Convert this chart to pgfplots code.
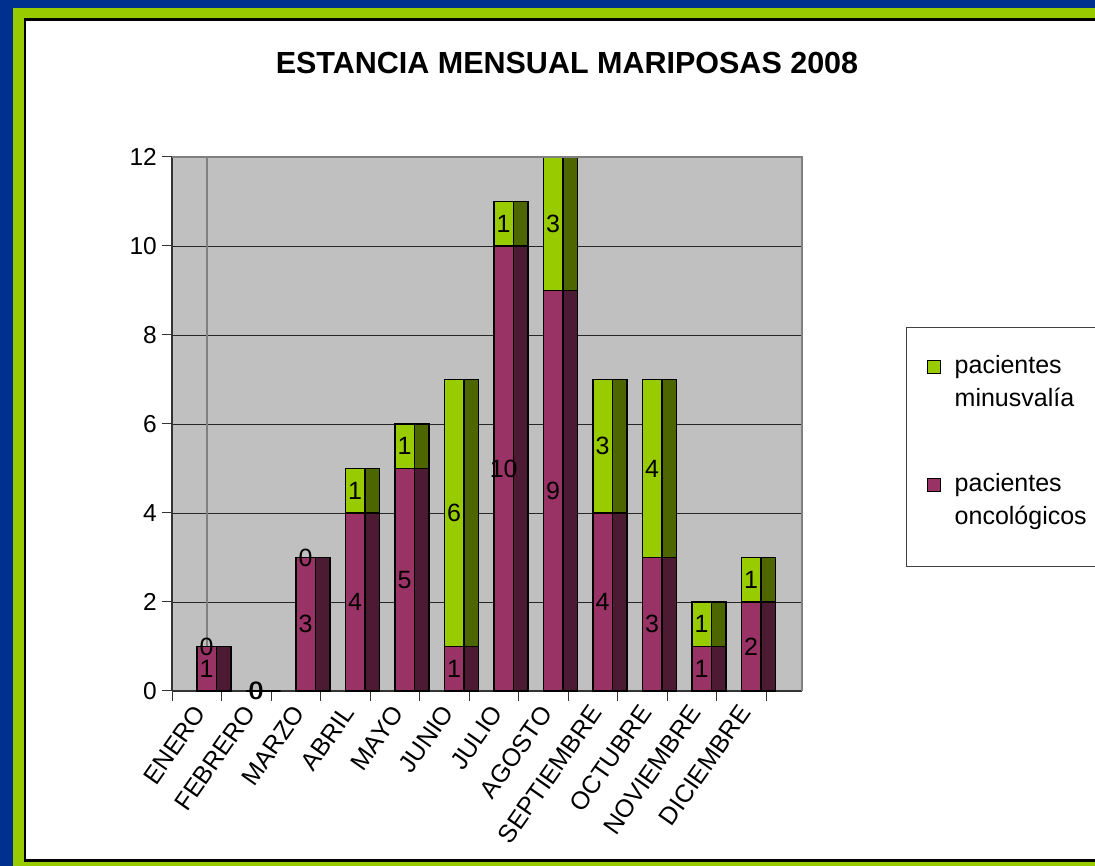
\documentclass[border=0pt]{standalone}
\usepackage{pgfplots}
\pgfplotsset{compat=1.18}
\usepackage{pgfplotstable}
\usepackage{fontspec}
\setmainfont{Liberation Sans}
\definecolor{bgblue}{RGB}{0,48,143}
\definecolor{brgreen}{RGB}{153,204,0}
\definecolor{plotgray}{RGB}{192,192,192}
\definecolor{maroonF}{RGB}{153,51,102}
\definecolor{maroonS}{RGB}{77,26,51}
\definecolor{greenF}{RGB}{153,204,0}
\definecolor{greenS}{RGB}{77,102,0}
\definecolor{bordgray}{RGB}{128,128,128}
\pgfplotstableread{
x onc tot
0 1 1
1 0 0
2 3 3
3 4 5
4 5 6
5 1 7
6 10 11
7 9 12
8 4 7
9 3 7
10 1 2
11 2 3
}\datatab
\begin{document}
\begin{tikzpicture}
\useasboundingbox (0,0) rectangle (1095pt,866pt);
\fill[bgblue] (0,0) rectangle (1095pt,866pt);
\fill[brgreen] (13pt,0) rectangle (1095pt,858pt);
\fill[black] (24pt,4pt) rectangle (1100pt,848pt);
\fill[white] (26pt,7pt) rectangle (1100pt,845pt);
\node[font=\fontsize{30.5}{36}\selectfont\bfseries] at (567pt,803pt) {ESTANCIA MENSUAL MARIPOSAS 2008};
\begin{axis}[
  at={(172pt,175pt)}, anchor=south west,
  scale only axis, width=630pt, height=534pt,
  xmin=-0.5, xmax=12.227, ymin=0, ymax=12,
  axis background/.style={fill=plotgray},
  axis x line*=bottom, axis y line*=left,
  axis line style={draw=black!80, line width=1.2pt},
  ytick={0,2,...,12},
  ymajorgrids, grid style={draw=black!85, line width=0.8pt},
  tick align=outside, major tick length=10pt,
  tick style={draw=black!80, line width=1pt},
  yticklabel style={font=\fontsize{24.5}{24}\selectfont, inner sep=0pt, xshift=-5pt},
  /pgf/number format/assume math mode=true,
  xtick={-0.5,0.5,...,11.5}, xticklabels={},
  extra x ticks={0,...,11},
  extra x tick labels={ENERO,FEBRERO,MARZO,ABRIL,MAYO,JUNIO,JULIO,AGOSTO,SEPTIEMBRE,OCTUBRE,NOVIEMBRE,DICIEMBRE},
  extra x tick style={major tick length=0pt, xticklabel style={font=\fontsize{25}{25}\selectfont, yshift=-12pt, xshift=-4pt, rotate=55, anchor=north east, inner sep=0pt}},
  legend style={at={(1.1651,0.6816)}, anchor=north west, draw=black!75, line width=1pt, fill=white,
    inner xsep=20pt, inner ysep=28pt, font=\fontsize{25}{33}\selectfont, row sep=65.5pt,
    nodes={inner sep=0pt},
    cells={anchor=base west},
    /tikz/every odd column/.append style={column sep=14pt}},
  clip=false,
]
\draw[bordgray, line width=2.5pt] (axis cs:0.207,0) -- (axis cs:0.207,12);
% front faces
\addplot[ybar, bar width=0.40, bar shift=0.20, fill=greenF, draw=black, line width=1.5pt,
  legend image code/.code={\draw[fill=greenF, draw=black, line width=1.2pt] (0pt,33pt) rectangle (13pt,46pt);}]
  table[x=x,y=tot] {\datatab};
\addlegendentry{\parbox[b]{150pt}{pacientes\\minusvalía}}
\addplot[ybar, bar width=0.40, bar shift=0.20, fill=maroonF, draw=black, line width=1.5pt,
  legend image code/.code={\draw[fill=maroonF, draw=black, line width=1.2pt] (0pt,45.25pt) rectangle (13pt,58.25pt);}]
  table[x=x,y=onc] {\datatab};
\addlegendentry{\parbox[b]{150pt}{pacientes\\oncológicos\par\vspace{7pt}}}
% side faces
\addplot[ybar, bar width=0.29, bar shift=0.545, fill=greenS, draw=black, line width=1.5pt, forget plot] table[x=x,y=tot] {\datatab};
\addplot[ybar, bar width=0.29, bar shift=0.545, fill=maroonS, draw=black, line width=1.5pt, forget plot] table[x=x,y=onc] {\datatab};
% top/right border
\draw[bordgray, line width=2.5pt] (rel axis cs:0,1) -- (rel axis cs:1,1) -- (rel axis cs:1,0);
% value labels
\addplot[draw=none, mark=none, forget plot, nodes near coords, point meta=explicit symbolic,
  nodes near coords align=center,
  every node near coord/.append style={font=\fontsize{25}{25}\selectfont, anchor=center, inner sep=0pt}]
  coordinates {
  (0.2,0.5)[1] (0.2,1)[0]
  (1.19,0)[0] (1.21,0)[0]
  (2.2,1.5)[3] (2.2,3)[0]
  (3.2,2)[4] (3.2,4.5)[1]
  (4.2,2.5)[5] (4.2,5.5)[1]
  (5.2,0.5)[1] (5.2,4)[6]
  (6.2,5)[10] (6.2,10.5)[1]
  (7.2,4.5)[9] (7.2,10.5)[3]
  (8.2,2)[4] (8.2,5.5)[3]
  (9.2,1.5)[3] (9.2,5)[4]
  (10.2,0.5)[1] (10.2,1.5)[1]
  (11.2,1)[2] (11.2,2.5)[1]
  };
\end{axis}
\end{tikzpicture}
\end{document}
